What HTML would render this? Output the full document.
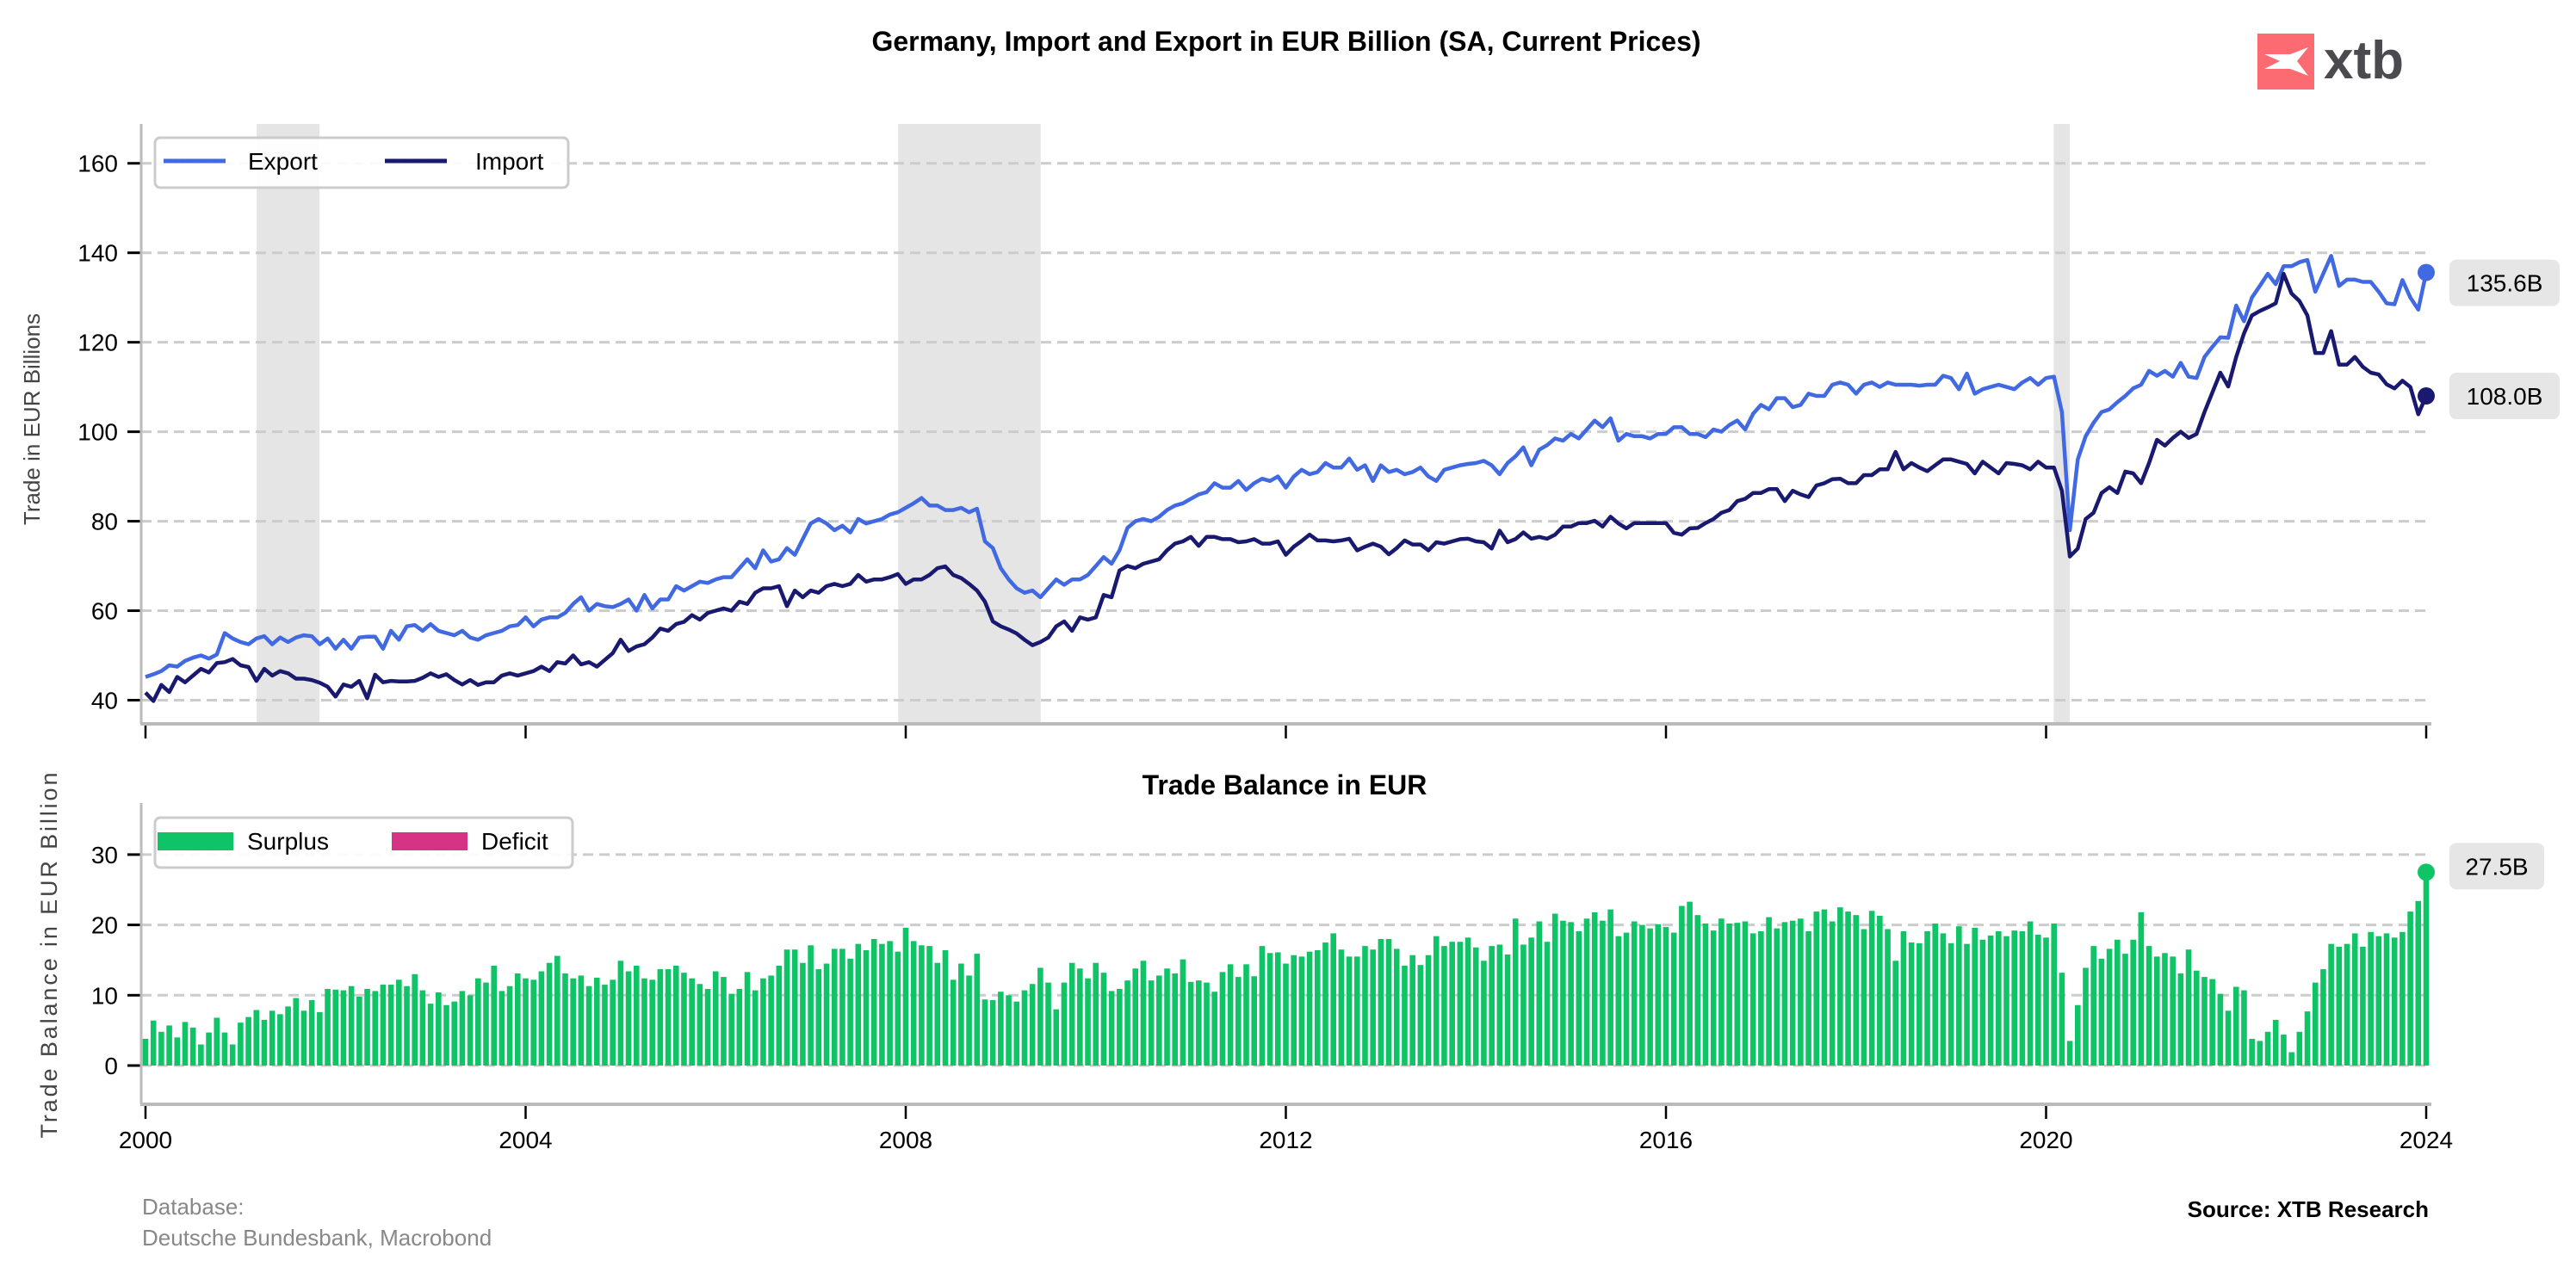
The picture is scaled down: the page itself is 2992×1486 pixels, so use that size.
<!DOCTYPE html>
<html><head><meta charset="utf-8"><style>
html,body{margin:0;padding:0;background:#fff}
svg{display:block;font-family:"Liberation Sans",Arial,sans-serif}
</style></head><body>
<svg id="chart" width="2992" height="1486" viewBox="0 0 2992 1486" xmlns="http://www.w3.org/2000/svg">
<rect x="0" y="0" width="2992" height="1486" fill="#fff"/>
<text x="1494" y="59" font-size="32" font-weight="bold" text-anchor="middle" fill="#000">Germany, Import and Export in EUR Billion (SA, Current Prices)</text>
<g>
<rect x="2622" y="39" width="66" height="65" fill="#fc6a72"/>
<polygon points="2630,63 2660,63 2681,55 2668,71 2681,88 2660,80 2630,80 2648,71" fill="#fff"/>
<text x="2699" y="91" font-size="62" font-weight="bold" fill="#4a4a4f">xtb</text>
</g>
<g id="topplot"></g>
<g id="botplot"></g>
<text transform="translate(46,487) rotate(-90)" font-size="26" fill="#444" text-anchor="middle">Trade in EUR Billions</text>
<text transform="translate(66,1110) rotate(-90)" font-size="27" fill="#444" text-anchor="middle" textLength="425" lengthAdjust="spacing">Trade Balance in EUR Billion</text>
<text x="1492" y="923" font-size="32" font-weight="bold" text-anchor="middle" fill="#000">Trade Balance in EUR</text>
<text x="165" y="1411" font-size="26" fill="#888">Database:</text>
<text x="165" y="1447" font-size="26" fill="#888">Deutsche Bundesbank, Macrobond</text>
<text x="2821" y="1414" font-size="26" font-weight="bold" text-anchor="end" fill="#000">Source: XTB Research</text>
</svg>
<script>
const exportValues = [
45.2,45.8,46.5,47.8,47.5,48.8,49.5,50,49.3,50.2,55,53.8,
53,52.5,53.8,54.3,52.5,54,53,54,54.5,54.3,52.5,53.8,
51.5,53.5,51.5,54,54.2,54.2,51.5,55.5,53.5,56.5,56.8,55.5,
57,55.5,55,54.5,55.5,54,53.5,54.5,55,55.5,56.5,56.8,
58.5,56.5,58,58.5,58.5,59.5,61.5,63,60,61.5,61,60.8,
61.5,62.5,60,63.5,60.5,62.5,62.5,65.5,64.5,65.5,66.5,66.2,
67,67.5,67.5,69.5,71.5,69.5,73.5,71,71.5,74,72.5,76,
79.5,80.5,79.5,78,79,77.5,80.5,79.5,80,80.5,81.5,82,
83,84,85.2,83.5,83.5,82.5,82.5,83,82,82.8,75.5,74,
69.5,67,65,64,64.5,63,65,67,65.8,67,67,68,
70,72,70.5,73.5,78.5,80,80.5,80,81,82.5,83.5,84,
85,86,86.5,88.5,87.5,87.5,89,87,88.5,89.5,89,90,
87.5,90,91.5,90.5,91,93,92,92,94,91.5,92.5,89,
92.5,91,91.5,90.5,91,92,90,89,91.5,92,92.5,92.8,
93,93.5,92.5,90.5,93,94.5,96.5,92.5,96,97,98.5,98,
99.5,98.5,100.5,102.5,101,103,98,99.5,99,99,98.5,99.5,
99.5,101,101,99.5,99.5,98.8,100.5,100,101.5,102.5,100.5,104,
106,105,107.5,107.5,105.5,106,108.5,108,108,110.5,111,110.5,
108.5,110.5,111,110,111,110.5,110.5,110.5,110.3,110.5,110.5,112.5,
112,109.5,113,108.5,109.5,110,110.5,110,109.5,111,112,110.5,
112,112.3,104.4,78,93.8,99,102,104.4,105,106.6,108,109.7,
110.5,113.6,112.5,113.6,112.3,115.4,112.3,112,116.7,119,121.1,121,
128.2,124.7,130,132.6,135.3,133,137,137,137.9,138.4,131.3,135.3,
139.3,132.6,134,134,133.5,133.5,131.3,128.7,128.5,133.9,130,127.3,
135.6];
const importValues = [
41.7,39.8,43.4,41.8,45.2,44,45.5,47,46.2,48.3,48.5,49.2,
47.8,47.4,44.3,47,45.5,46.5,46,44.8,44.8,44.5,43.9,43,
40.8,43.5,43,44.3,40.4,45.7,44,44.3,44.2,44.2,44.3,45,
46,45.2,45.8,44.5,43.5,44.5,43.4,44,44,45.5,46,45.5,
46,46.5,47.5,46.5,48.5,48.2,50,48,48.5,47.5,49,50.5,
53.5,51,52,52.5,54,56,55.5,57,57.5,59,58,59.5,
60,60.5,60,62,61.5,64,65,65,65.5,61,64.5,63,
64.5,64,65.5,66,65.5,66,68,66.5,67,67,67.5,68.2,
66,67,67,68,69.5,69.9,68,67.3,66,64.5,62,57.6,
56.5,55.8,54.9,53.5,52.3,53,54,56.5,57.6,55.5,58.5,58,
58.5,63.5,63,69,70,69.5,70.5,71,71.5,73.5,75,75.5,
76.5,74.5,76.5,76.5,76,76,75.3,75.5,76,75,75,75.5,
72.5,74.3,75.6,77,75.7,75.7,75.5,75.7,76.1,73.5,74.3,75,
74.3,72.6,74,75.7,74.8,74.8,73.5,75.3,75,75.5,76,76.1,
75.5,75.3,73.9,77.9,75.3,76,77.5,76.1,76.5,76.1,77,78.8,
78.8,79.6,79.6,80.1,78.8,81,79.5,78.4,79.6,79.6,79.6,79.6,
79.6,77.4,77,78.4,78.5,79.6,80.5,81.9,82.5,84.5,85,86.3,
86.3,87.2,87.2,84.5,86.8,86,85.4,88,88.5,89.4,89.5,88.5,
88.5,90.3,90.3,91.6,91.6,95.5,91.6,93,92,91.2,92.5,93.8,
93.8,93.3,92.8,90.7,93.3,92,90.7,93,92.8,92.5,91.6,93.3,
92,92,86.8,72.1,73.9,80.5,81.9,86.3,87.6,86.3,91.1,90.7,
88.5,93,98.2,96.9,98.6,100,98.6,99.5,104.4,108.8,113.2,110.1,
116.7,122,126,127,127.8,128.7,135.3,130.9,129.2,126,117.6,117.6,
122.5,115,115,116.7,114.5,113.2,112.8,110.6,109.7,111.4,110,103.9,
108];
const balanceValues = [
3.8,6.4,4.8,5.7,4.0,6.2,5.4,3.0,4.7,6.8,4.7,3.0,
6.1,6.9,7.9,6.5,7.8,7.3,8.4,9.6,7.8,9.3,7.6,10.9,
10.8,10.7,11.3,9.8,10.9,10.6,11.5,11.5,12.2,11.3,13.0,10.7,
8.8,10.4,8.6,9.1,10.6,10.0,12.4,11.8,14.2,10.6,11.3,13.1,
12.4,12.2,13.4,14.6,15.6,13.1,12.4,12.8,11.3,12.5,11.5,12.2,
14.9,13.4,14.2,12.4,12.2,13.7,13.7,14.2,13.2,12.4,11.6,10.9,
13.4,12.6,10.2,10.9,13.3,10.7,12.4,12.8,14.2,16.5,16.5,14.6,
17.1,13.7,14.5,16.6,16.6,15.2,17.3,16.4,18.0,17.3,17.7,16.2,
19.6,17.7,17.1,17.0,14.6,16.4,12.2,14.5,12.8,15.9,9.4,9.3,
10.5,10.0,9.1,10.7,11.6,13.9,11.8,8.0,11.8,14.6,13.8,12.4,
14.6,13.2,10.6,10.9,12.1,13.8,14.9,12.1,12.8,13.8,13.1,15.1,
11.9,12.1,11.8,10.5,13.3,14.4,12.6,14.4,12.7,17.0,16.0,
16.1,14.5,15.7,15.5,16.2,16.4,17.5,18.8,16.5,15.5,15.5,
17.0,16.5,18.0,18.0,16.6,14.2,15.7,14.3,15.7,18.4,
17.0,17.6,17.6,18.2,16.8,14.9,17.0,17.2,15.8,20.9,
17.2,18.2,20.5,17.6,21.6,20.6,20.4,19.1,20.9,21.8,
20.6,22.2,18.4,18.9,20.5,20.0,19.5,20.1,19.7,18.9,22.7,
23.3,21.4,20.2,19.2,20.9,20.2,20.3,20.5,18.8,19.1,
21.1,19.5,20.4,20.6,20.9,19.1,21.9,22.2,20.5,22.5,
21.9,21.4,19.4,22.0,21.3,19.4,14.9,19.1,17.5,17.4,
19.1,20.2,18.8,17.4,19.8,17.3,19.6,17.9,18.5,19.1,18.4,
19.2,19.1,20.5,18.6,18.2,20.2,13.2,
3.5,8.6,13.9,17.0,15.2,16.6,17.9,15.9,17.9,21.8,17.0,15.5,16.0,15.5,13.1,16.5,13.5,12.6,12.3,10.2,7.8,11.2,10.7,3.8,3.5,4.8,6.5,4.4,1.9,4.8,7.7,11.8,13.7,17.3,16.9,17.3,18.8,16.9,19.0,18.4,18.8,18.2,19.0,21.9,23.4,27.5];
const startYear = 2000;
const xTickYears = [2000,2004,2008,2012,2016,2020,2024];
const topTicks = [40,60,80,100,120,140,160];
const botTicks = [0,10,20,30];
const recessionStart = [2001.17,2007.92,2020.08];
const recessionEnd = [2001.83,2009.42,2020.25];

const NS = 'http://www.w3.org/2000/svg';
const X0 = 169, PXY = 110.375;
function xs(year){ return X0 + (year - 2000) * PXY; }
function monthYear(i){ return startYear + i / 12; }
function yT(v){ return 813.5 - (v - 40) * 5.198; }
function yB(v){ return 1238 - v * 8.17; }
function mk(parent, tag, attrs){
  const el = document.createElementNS(NS, tag);
  for (const k in attrs) el.setAttribute(k, attrs[k]);
  parent.appendChild(el);
  return el;
}
const topG = document.getElementById('topplot');
const botG = document.getElementById('botplot');

for (let i = 0; i < recessionStart.length; i++) {
  const r = mk(topG, 'rect', {x: xs(recessionStart[i]), y: 144, width: xs(recessionEnd[i]) - xs(recessionStart[i]), height: 697, fill: '#e5e5e5'});
  
  
}
function grid(g, ticks, yf, prefix){
  ticks.forEach(t => {
    const y = yf(t);
    const l = mk(g, 'line', {x1: 164, x2: 2824, y1: y, y2: y, stroke: '#cccccc', 'stroke-width': 3, 'stroke-dasharray': '12,7'});
    
    
    const tk = mk(g, 'line', {x1: 148, x2: 164, y1: y, y2: y, stroke: '#000', 'stroke-width': 3});
    
    
    const tx = mk(g, 'text', {x: 137, y: y + 10, 'font-size': 28, 'text-anchor': 'end', fill: '#000'});
    tx.textContent = t;
    
    
  });
}
grid(topG, topTicks, yT, 'top');
grid(botG, botTicks, yB, 'bottom');

function spines(g, y0, y1, prefix, labels){
  const a = mk(g, 'line', {x1: 164, x2: 164, y1: y0, y2: y1, stroke: '#bbbbbb', 'stroke-width': 3});
  
  
  const b = mk(g, 'line', {x1: 163, x2: 2824, y1: y1, y2: y1, stroke: '#bbbbbb', 'stroke-width': 4});
  
  
  xTickYears.forEach(yr => {
    const x = xs(yr);
    const t = mk(g, 'line', {x1: x, x2: x, y1: y1 + 2, y2: y1 + 17, stroke: '#000', 'stroke-width': 2.5});
    
    
    if (labels) {
      const tx = mk(g, 'text', {x: x, y: y1 + 51, 'font-size': 28, 'text-anchor': 'middle', fill: '#000'});
      tx.textContent = yr;
      
      
    }
  });
}
spines(topG, 144, 841, 'top', false);
spines(botG, 933, 1283, 'bottom', true);

function line(vals, color, name){
  const pts = vals.map((v, i) => xs(monthYear(i)).toFixed(1) + ',' + yT(v).toFixed(1)).join(' ');
  const p = mk(topG, 'polyline', {points: pts, fill: 'none', stroke: color, 'stroke-width': 4.5, 'stroke-linejoin': 'round'});
  
  
  const n = vals.length - 1;
  const c = mk(topG, 'circle', {cx: xs(monthYear(n)), cy: yT(vals[n]), r: 10, fill: color});
  
  
  return yT(vals[n]);
}
const ye = line(exportValues, '#4169e1', 'export-line');
const yi = line(importValues, '#191970', 'import-line');

balanceValues.forEach((v, i) => {
  const x = xs(monthYear(i));
  const y = yB(Math.max(v, 0)), h = Math.abs(yB(v) - yB(0));
  const b = mk(botG, 'rect', {x: x - 3.3, y: y, width: 6.6, height: h, fill: v >= 0 ? '#0fc466' : '#d63384'});
  
  
});
const nb = balanceValues.length - 1;
const bd = mk(botG, 'circle', {cx: xs(monthYear(nb)), cy: yB(balanceValues[nb]), r: 10, fill: '#0fc466'});



function valLabel(g, y, txt, w, name){
  const r = mk(g, 'rect', {x: 2845, y: y - 27, width: w, height: 54, rx: 8, fill: '#e6e6e6'});
  
  
  const t = mk(g, 'text', {x: 2845 + w / 2, y: y + 10, 'font-size': 28, 'text-anchor': 'middle', fill: '#000'});
  t.textContent = txt;
  
  
}
valLabel(topG, ye + 12, exportValues[exportValues.length - 1].toFixed(1) + 'B', 128, 'export-value-label');
valLabel(topG, yi, importValues[importValues.length - 1].toFixed(1) + 'B', 128, 'import-value-label');
valLabel(botG, yB(balanceValues[nb]) - 7, balanceValues[nb].toFixed(1) + 'B', 110, 'balance-value-label');

function legend(g, y0, w, items, patch){
  const box = mk(g, 'rect', {x: 180, y: y0, width: w, height: 58, rx: 6, fill: '#fff', 'fill-opacity': 0.9, stroke: '#cccccc', 'stroke-width': 3});
  
  
  const cy = y0 + 28;
  items.forEach(it => {
    let m;
    if (patch) m = mk(g, 'rect', {x: it.x, y: cy - 11, width: 88, height: 21, fill: it.color});
    else m = mk(g, 'line', {x1: it.x, x2: it.x + 72, y1: cy - 1, y2: cy - 1, stroke: it.color, 'stroke-width': 5});
    
    
    const t = mk(g, 'text', {x: it.tx, y: cy + 9, 'font-size': 28, fill: '#000'});
    t.textContent = it.label;
    
    
  });
}
legend(topG, 160, 480, [{x: 190, tx: 288, label: 'Export', color: '#4169e1'}, {x: 447, tx: 552, label: 'Import', color: '#191970'}], false);
legend(botG, 950, 485, [{x: 183, tx: 287, label: 'Surplus', color: '#0fc466'}, {x: 455, tx: 559, label: 'Deficit', color: '#d63384'}], true);
</script>
</body></html>
